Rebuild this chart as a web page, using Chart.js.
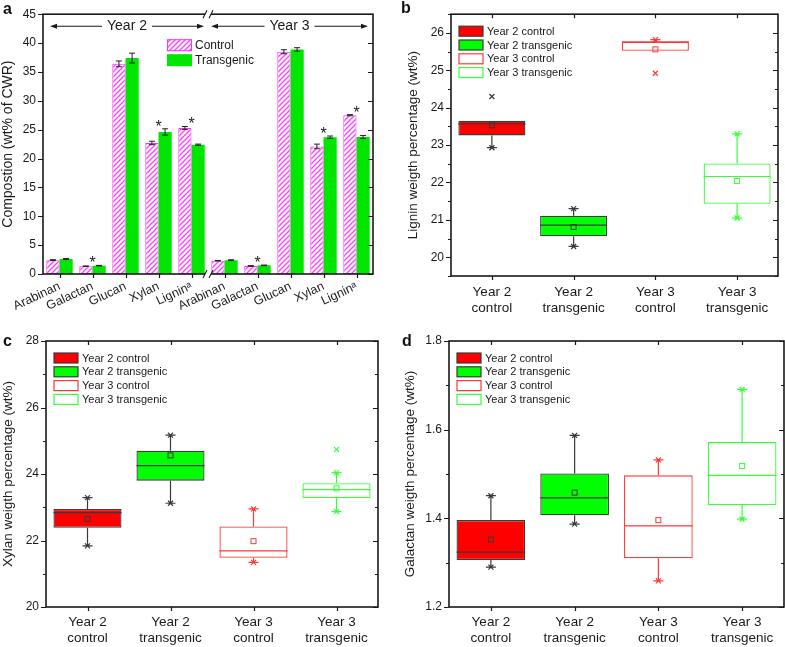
<!DOCTYPE html>
<html>
<head>
<meta charset="utf-8">
<script src="https://cdn.jsdelivr.net/npm/chart.js@4.4.1/dist/chart.umd.min.js"></script>
<style>
  body { margin: 0; background: #fff; width: 785px; height: 647px; position: relative; overflow: hidden; }
  canvas { position: absolute; }
  .letra { position: absolute; font: bold 16px 'Liberation Sans', Arial, sans-serif; line-height: 16px; color: #111; }
</style>
</head>
<body>
<canvas id="graficoA" width="400" height="320" style="left:0;top:0"></canvas>
<canvas id="graficoB" width="385" height="320" style="left:400px;top:0"></canvas>
<canvas id="graficoC" width="400" height="327" style="left:0;top:320px"></canvas>
<canvas id="graficoD" width="385" height="327" style="left:400px;top:320px"></canvas>
<div class="letra" style="left:3px;top:1px">a</div>
<div class="letra" style="left:401px;top:0">b</div>
<div class="letra" style="left:3px;top:333px">c</div>
<div class="letra" style="left:402px;top:333px">d</div>

<script>
// ---- painel a: composicao ----
const componentes = ['Arabinan', 'Galactan', 'Glucan', 'Xylan', 'Ligninᵃ'];
const rotulosA = [...componentes, ...componentes];
const anos = ['Year 2', 'Year 3'];
const controle = [2.4, 1.35, 36.4, 22.7, 25.3, 2.3, 1.4, 38.5, 22.1, 27.5];
const controleErro = [0.08, 0.04, 0.5, 0.3, 0.25, 0.05, 0.05, 0.35, 0.4, 0.1];
const transgenico = [2.6, 1.45, 37.4, 24.6, 22.4, 2.4, 1.5, 38.9, 23.7, 23.75];
const transgenicoErro = [0.08, 0.04, 0.85, 0.55, 0.1, 0.07, 0.05, 0.3, 0.2, 0.25];
const asteriscos = [false, true, false, true, true, false, true, false, true, true];

// ---- paineis b, c, d: boxplots ----
const grupos = [['Year 2', 'control'], ['Year 2', 'transgenic'], ['Year 3', 'control'], ['Year 3', 'transgenic']];
const rotulosLegenda = ['Year 2 control', 'Year 2 transgenic', 'Year 3 control', 'Year 3 transgenic'];

const ligninaQ1 = [23.26, 20.56, 25.52, 21.43];
const ligninaQ3 = [23.65, 21.11, 25.76, 22.51];
const ligninaMediana = [23.57, 20.86, 25.76, 22.16];
const ligninaMedia = [23.53, 20.81, 25.56, 22.04];
const ligninaMin = [22.93, 20.29, null, 21.05];
const ligninaMax = [null, 21.30, 25.82, 23.30];
const ligninaOutliers = [[24.30], [], [24.92], []];

const xilanaQ1 = [22.38, 23.80, 21.48, 23.28];
const xilanaQ3 = [22.95, 24.70, 22.42, 23.72];
const xilanaMediana = [22.84, 24.25, 21.69, 23.53];
const xilanaMedia = [22.65, 24.56, 21.98, 23.57];
const xilanaMin = [21.84, 23.12, 21.34, 22.87];
const xilanaMax = [23.29, 25.17, 22.95, 24.04];
const xilanaOutliers = [[], [], [], [24.74]];

const galactanaQ1 = [1.306, 1.407, 1.310, 1.430];
const galactanaQ3 = [1.396, 1.501, 1.497, 1.572];
const galactanaMediana = [1.324, 1.446, 1.383, 1.497];
const galactanaMedia = [1.352, 1.458, 1.396, 1.518];
const galactanaMin = [1.290, 1.387, 1.259, 1.398];
const galactanaMax = [1.451, 1.587, 1.532, 1.691];
const galactanaOutliers = [[], [], [], []];

const preenchimentos = ['#ff0000', '#00ff00', '#ffffff', '#ffffff'];
const contornos = ['#3a3a3a', '#3a3a3a', '#ff3838', '#38ff38'];

Chart.defaults.font.family = "'Liberation Sans', Arial, sans-serif";
Chart.defaults.color = '#1a1a1a';
Chart.defaults.animation = false;

const COR_EIXO = '#1a1a1a';

function criarHachura(cor) {
  const tile = document.createElement('canvas');
  tile.width = 5;
  tile.height = 5;
  const g = tile.getContext('2d');
  g.fillStyle = '#fff';
  g.fillRect(0, 0, 5, 5);
  g.strokeStyle = cor;
  g.lineWidth = 1.3;
  g.beginPath();
  g.moveTo(-1, 6); g.lineTo(6, -1);
  g.moveTo(-1, 1); g.lineTo(1, -1);
  g.moveTo(4, 6); g.lineTo(6, 4);
  g.stroke();
  return g.createPattern(tile, 'repeat');
}

// moldura com ticks para fora na esquerda/baixo e para dentro na direita/topo
const moldura = {
  id: 'moldura',
  afterDraw(chart, args, opts) {
    const { ctx, chartArea: area, scales: { x, y } } = chart;
    ctx.save();
    ctx.strokeStyle = COR_EIXO;
    ctx.lineWidth = 1.2;
    ctx.beginPath();
    y.ticks.forEach((t) => {
      const py = Math.round(y.getPixelForValue(t.value)) + 0.5;
      const tam = t.label === '' ? 3 : 5;
      ctx.moveTo(area.left, py); ctx.lineTo(area.left - tam, py);
      ctx.moveTo(area.right, py); ctx.lineTo(area.right - tam, py);
    });
    x.ticks.forEach((t, i) => {
      const px = Math.round(x.getPixelForTick(i)) + 0.5;
      ctx.moveTo(px, area.bottom); ctx.lineTo(px, area.bottom + 4);
      if (opts.topo) { ctx.moveTo(px, area.top); ctx.lineTo(px, area.top + 4); }
    });
    ctx.stroke();
    ctx.lineWidth = 1.6;
    ctx.strokeRect(area.left, area.top, area.right - area.left, area.bottom - area.top);
    ctx.restore();
  }
};

const barrasErro = {
  id: 'barrasErro',
  afterDatasetsDraw(chart) {
    const { ctx, scales: { x, y } } = chart;
    ctx.save();
    ctx.strokeStyle = '#222';
    ctx.lineWidth = 1;
    chart.data.datasets.forEach((ds, d) => {
      chart.getDatasetMeta(d).data.forEach((barra, i) => {
        const cima = y.getPixelForValue(ds.data[i] + ds.erros[i]);
        const baixo = y.getPixelForValue(ds.data[i] - ds.erros[i]);
        ctx.beginPath();
        ctx.moveTo(barra.x, cima); ctx.lineTo(barra.x, baixo);
        ctx.moveTo(barra.x - 3, cima); ctx.lineTo(barra.x + 3, cima);
        ctx.moveTo(barra.x - 3, baixo); ctx.lineTo(barra.x + 3, baixo);
        ctx.stroke();
      });
    });
    // asteriscos de significancia
    ctx.fillStyle = '#222';
    ctx.font = "16px 'Liberation Sans', Arial, sans-serif";
    ctx.textAlign = 'center';
    ctx.textBaseline = 'alphabetic';
    asteriscos.forEach((marcado, i) => {
      if (!marcado) return;
      const topo = Math.max(controle[i] + controleErro[i], transgenico[i] + transgenicoErro[i]);
      ctx.fillText('*', x.getPixelForTick(i), y.getPixelForValue(topo) + 3);
    });
    ctx.restore();
  }
};

function desenharSeta(ctx, x0, x1, y, texto) {
  const meio = (x0 + x1) / 2;
  const w = ctx.measureText(texto).width;
  ctx.fillText(texto, meio, y);
  ctx.beginPath();
  ctx.moveTo(x0 + 4, y); ctx.lineTo(meio - w / 2 - 5, y);
  ctx.moveTo(meio + w / 2 + 5, y); ctx.lineTo(x1 - 4, y);
  ctx.stroke();
  ctx.beginPath();
  ctx.moveTo(x0, y); ctx.lineTo(x0 + 7, y - 2.5); ctx.lineTo(x0 + 7, y + 2.5); ctx.closePath();
  ctx.moveTo(x1, y); ctx.lineTo(x1 - 7, y - 2.5); ctx.lineTo(x1 - 7, y + 2.5); ctx.closePath();
  ctx.fill();
}

// quebra de eixo, cabecalho dos anos e legenda do painel a
const enfeitesA = {
  id: 'enfeitesA',
  afterDraw(chart) {
    const { ctx, chartArea: area, scales: { x } } = chart;
    const quebra = (x.getPixelForTick(4) + x.getPixelForTick(5)) / 2;
    ctx.save();
    ctx.strokeStyle = COR_EIXO;
    ctx.fillStyle = COR_EIXO;
    ctx.lineWidth = 1.1;
    [area.top, area.bottom].forEach((py) => {
      ctx.fillStyle = '#fff';
      ctx.fillRect(quebra - 3, py - 2, 6, 4);
      ctx.beginPath();
      ctx.moveTo(quebra - 5, py + 4); ctx.lineTo(quebra - 1, py - 4);
      ctx.moveTo(quebra + 1, py + 4); ctx.lineTo(quebra + 5, py - 4);
      ctx.stroke();
    });
    ctx.fillStyle = COR_EIXO;
    ctx.font = "14px 'Liberation Sans', Arial, sans-serif";
    ctx.textAlign = 'center';
    ctx.textBaseline = 'middle';
    const ySeta = area.top + 12;
    desenharSeta(ctx, area.left + 7, quebra - 4, ySeta, anos[0]);
    desenharSeta(ctx, quebra + 3, area.right - 5, ySeta, anos[1]);

    // legenda
    const lx = area.left + 124;
    ctx.font = "12px 'Liberation Sans', Arial, sans-serif";
    ctx.textAlign = 'left';
    chart.data.datasets.forEach((ds, d) => {
      const ly = area.top + 25 + d * 15;
      ctx.fillStyle = ds.backgroundColor;
      ctx.fillRect(lx, ly, 25, 12);
      if (ds.borderWidth) {
        ctx.strokeStyle = ds.borderColor;
        ctx.lineWidth = 1;
        ctx.strokeRect(lx + 0.5, ly + 0.5, 24, 11);
      }
      ctx.fillStyle = COR_EIXO;
      ctx.fillText(ds.label, lx + 28, ly + 6.5);
    });
    ctx.restore();
  }
};

// mediana, media, bigodes e outliers por cima das caixas
const caixas = {
  id: 'caixas',
  afterDatasetsDraw(chart) {
    const { ctx, scales: { y } } = chart;
    const ds = chart.data.datasets[0];
    ctx.save();
    ctx.lineWidth = 1.2;
    chart.getDatasetMeta(0).data.forEach((barra, i) => {
      const cor = ds.borderColor[i];
      const meia = barra.width / 2;
      const [q1, q3] = ds.data[i];
      ctx.strokeStyle = cor;
      ctx.beginPath();
      const pm = y.getPixelForValue(ds.mediana[i]);
      ctx.moveTo(barra.x - meia, pm); ctx.lineTo(barra.x + meia, pm);
      [[ds.minimo[i], q1], [ds.maximo[i], q3]].forEach(([fim, borda]) => {
        if (fim === null) return;
        const pf = y.getPixelForValue(fim);
        ctx.moveTo(barra.x, y.getPixelForValue(borda)); ctx.lineTo(barra.x, pf);
        ctx.moveTo(barra.x - 5, pf); ctx.lineTo(barra.x + 5, pf);
        ctx.moveTo(barra.x - 2.5, pf - 2.5); ctx.lineTo(barra.x + 2.5, pf + 2.5);
        ctx.moveTo(barra.x - 2.5, pf + 2.5); ctx.lineTo(barra.x + 2.5, pf - 2.5);
      });
      ds.outliers[i].forEach((v) => {
        const po = y.getPixelForValue(v);
        ctx.moveTo(barra.x - 2.5, po - 2.5); ctx.lineTo(barra.x + 2.5, po + 2.5);
        ctx.moveTo(barra.x - 2.5, po + 2.5); ctx.lineTo(barra.x + 2.5, po - 2.5);
      });
      ctx.stroke();
      ctx.lineWidth = 1;
      const pmed = y.getPixelForValue(ds.media[i]);
      ctx.strokeRect(barra.x - 2.5, pmed - 2.5, 5, 5);
      ctx.lineWidth = 1.2;
    });
    ctx.restore();
  },
  afterDraw(chart) {
    const { ctx, chartArea: area } = chart;
    const ds = chart.data.datasets[0];
    ctx.save();
    ctx.font = "11px 'Liberation Sans', Arial, sans-serif";
    ctx.textBaseline = 'middle';
    ctx.lineWidth = 1.2;
    rotulosLegenda.forEach((rotulo, i) => {
      const lx = area.left + 8;
      const ly = area.top + 17 + i * 13.8;
      ctx.fillStyle = ds.backgroundColor[i];
      ctx.fillRect(lx, ly - 5, 24, 10);
      ctx.strokeStyle = ds.borderColor[i];
      ctx.strokeRect(lx, ly - 5, 24, 10);
      ctx.fillStyle = COR_EIXO;
      ctx.fillText(rotulo, lx + 28, ly + 0.5);
    });
    ctx.restore();
  }
};

function eixoY(min, max, passo, rotulo, titulo, largura, recuo, tamTitulo) {
  return {
    min, max,
    ticks: { stepSize: passo, padding: 7, font: { size: 12 }, callback: rotulo },
    grid: { display: false, drawTicks: false },
    border: { display: false },
    title: { display: true, text: titulo, font: { size: tamTitulo }, padding: { top: recuo, bottom: 0 } },
    afterFit: (escala) => { escala.width = largura; }
  };
}

new Chart(document.getElementById('graficoA'), {
  type: 'bar',
  data: {
    labels: rotulosA,
    datasets: [
      { label: 'Control', data: controle, erros: controleErro, backgroundColor: criarHachura('#ff3cff'), borderColor: '#ff30ff', borderWidth: 1, borderSkipped: false, categoryPercentage: 0.8, barPercentage: 1 },
      { label: 'Transgenic', data: transgenico, erros: transgenicoErro, backgroundColor: '#00e600', borderWidth: 0, categoryPercentage: 0.8, barPercentage: 1 }
    ]
  },
  options: {
    responsive: false,
    layout: { padding: { left: 0, right: 27, top: 7, bottom: 0 } },
    plugins: { legend: { display: false }, tooltip: { enabled: false }, moldura: { topo: false } },
    scales: {
      x: {
        grid: { display: false, drawTicks: false },
        border: { display: false },
        ticks: { minRotation: 25, maxRotation: 25, padding: 5, autoSkip: false, font: { size: 12.5 } },
        afterFit: (escala) => { escala.height = 46; }
      },
      y: eixoY(0, 45, 2.5, (v) => (v % 5 === 0 ? v : ''), 'Compostion (wt% of CWR)', 43, 0, 14)
    }
  },
  plugins: [moldura, barrasErro, enfeitesA]
});

function criarBoxplot(id, q1, q3, mediana, media, minimo, maximo, outliers, eixo, margens) {
  new Chart(document.getElementById(id), {
    type: 'bar',
    data: {
      labels: grupos,
      datasets: [{
        data: q1.map((v, i) => [v, q3[i]]),
        mediana, media, minimo, maximo, outliers,
        backgroundColor: preenchimentos,
        borderColor: contornos,
        borderWidth: 1.3,
        borderSkipped: false,
        categoryPercentage: 1,
        barPercentage: 0.82
      }]
    },
    options: {
      responsive: false,
      layout: { padding: { left: 0, right: margens.direita, top: margens.topo, bottom: 0 } },
      plugins: { legend: { display: false }, tooltip: { enabled: false }, moldura: { topo: true } },
      scales: {
        x: {
          grid: { display: false, drawTicks: false },
          border: { display: false },
          ticks: { padding: margens.rotulo, font: { size: 13.5 }, maxRotation: 0 },
          afterFit: (escala) => { escala.height = margens.baixo; }
        },
        y: eixo
      }
    },
    plugins: [moldura, caixas]
  });
}

criarBoxplot('graficoB', ligninaQ1, ligninaQ3, ligninaMediana, ligninaMedia, ligninaMin, ligninaMax, ligninaOutliers,
  eixoY(19.5, 26.5, 0.5, (v) => (Number.isInteger(v) ? v : ''), 'Lignin weigth percentage (wt%)', 51, 5, 13.5),
  { direita: 7, topo: 9, baixo: 44, rotulo: 8 });

criarBoxplot('graficoC', xilanaQ1, xilanaQ3, xilanaMediana, xilanaMedia, xilanaMin, xilanaMax, xilanaOutliers,
  eixoY(20, 28, 1, (v) => (v % 2 === 0 ? v : ''), 'Xylan weigth percentage (wt%)', 46, 0, 13.5),
  { direita: 22, topo: 21, baixo: 40, rotulo: 7 });

criarBoxplot('graficoD', galactanaQ1, galactanaQ3, galactanaMediana, galactanaMedia, galactanaMin, galactanaMax, galactanaOutliers,
  eixoY(1.2, 1.8, 0.1, (v) => (Math.round(v * 10) % 2 === 0 ? v.toFixed(1) : ''), 'Galactan weigth percentage (wt%)', 49, 2, 13.5),
  { direita: 1, topo: 21, baixo: 40, rotulo: 7 });
</script>
</body>
</html>
